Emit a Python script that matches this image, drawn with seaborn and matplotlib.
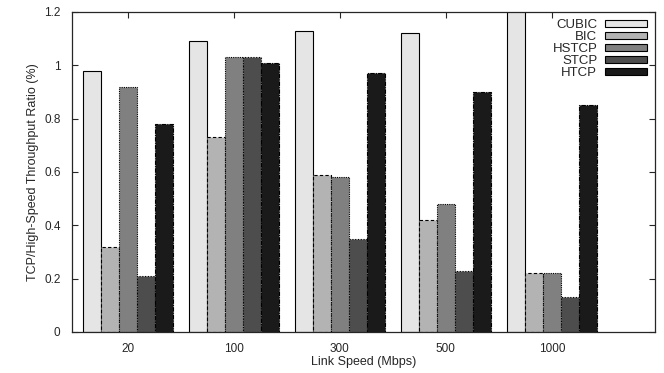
import pandas as pd
import numpy as np
import matplotlib.pyplot as plt
import seaborn as sns

speeds = ["20", "100", "300", "500", "1000"]
protocols = ["CUBIC", "BIC", "HSTCP", "STCP", "HTCP"]
cubic = [0.98, 1.09, 1.13, 1.12, 1.25]
bic = [0.32, 0.73, 0.59, 0.42, 0.22]
hstcp = [0.92, 1.03, 0.58, 0.48, 0.22]
stcp = [0.21, 1.03, 0.35, 0.23, 0.13]
htcp = [0.78, 1.01, 0.97, 0.90, 0.85]

colors = ["#e5e5e5", "#b3b3b3", "#808080", "#4d4d4d", "#1a1a1a"]
edge_styles = ["-", (0, (3, 2)), (0, (1, 1)), (0, (1, 1.5)), (0, (4, 1, 1, 1))]

rows = []
for proto, vals in zip(protocols, [cubic, bic, hstcp, stcp, htcp]):
    for s, v in zip(speeds, vals):
        rows.append({"speed": s, "protocol": proto, "ratio": v})
df = pd.DataFrame(rows)

sns.set_style("ticks")
plt.rcParams['font.family'] = ['Liberation Sans', 'DejaVu Sans']

fig = plt.figure(figsize=(6.64, 3.73), dpi=100)
ax = fig.add_axes([0.108, 0.110, 0.878, 0.858])

sns.barplot(data=df, x="speed", y="ratio", hue="protocol", order=speeds,
            hue_order=protocols, palette=colors, width=0.85, gap=0,
            saturation=1, edgecolor="black", linewidth=0.8, ax=ax)

for cont, ls in zip(ax.containers, edge_styles):
    for bar in cont:
        bar.set_linestyle(ls)

ax.set_xlim(-0.53, 4.97)
ax.set_ylim(0, 1.2)
ax.set_yticks([0, 0.2, 0.4, 0.6, 0.8, 1.0, 1.2])
ax.set_yticklabels(["0", "0.2", "0.4", "0.6", "0.8", "1", "1.2"])
ax.set_xlabel("Link Speed (Mbps)", fontsize=9, labelpad=1)
ax.set_ylabel("TCP/High-Speed Throughput Ratio (%)", fontsize=9, labelpad=4)
ax.tick_params(direction="in", top=True, right=True, labelsize=8.5, length=4,
               width=0.8, pad=8)
for sp in ax.spines.values():
    sp.set_visible(True)
    sp.set_linewidth(0.9)

handles, labels = ax.get_legend_handles_labels()
leg = ax.legend(handles, labels, loc="upper right", frameon=False,
                markerfirst=False, fontsize=9.5, handlelength=3.2,
                handleheight=0.45, labelspacing=0.0, handletextpad=0.6,
                borderaxespad=0.15)
for t in leg.get_texts():
    t.set_ha("right")
leg._legend_box.align = "right"

plt.savefig("out.png", dpi=100)
